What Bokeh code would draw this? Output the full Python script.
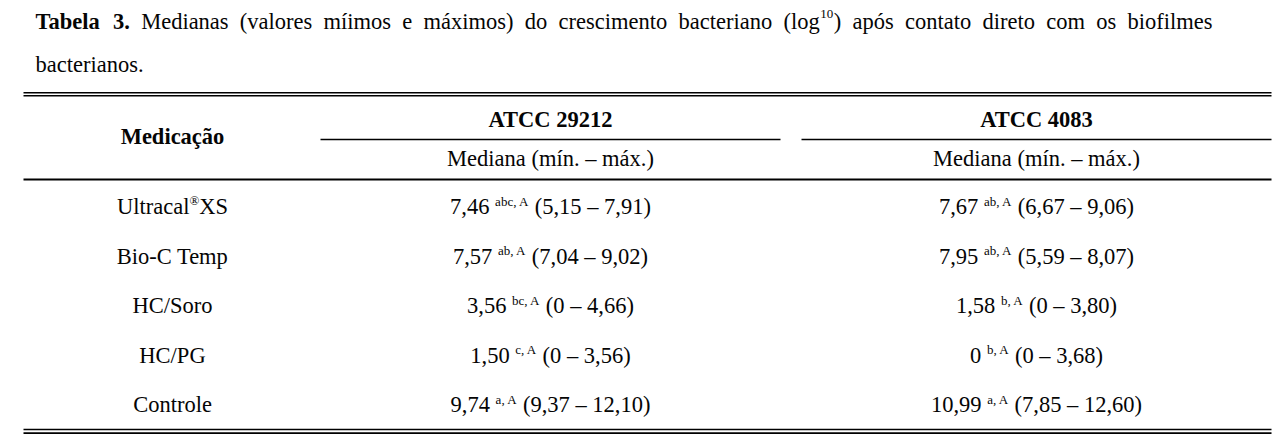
from bokeh.plotting import figure
from bokeh.models import Range1d, ColumnDataSource
from bokeh.core.properties import value
from bokeh.embed import file_html
from bokeh.resources import INLINE

# ---------------- data ----------------
title_line1 = "Tabela 3. Medianas (valores míimos e máximos) do crescimento bacteriano (log^10) após contato direto com os biofilmes"
title_bold_words = 2          # "Tabela 3." is bold
title_line2 = "bacterianos."

col_header_med = "Medicação"
strains = ["ATCC 29212", "ATCC 4083"]
sub_header = "Mediana (mín. – máx.)"

medications = ["Ultracal®XS", "Bio-C Temp", "HC/Soro", "HC/PG", "Controle"]

atcc29212_median = [7.46, 7.57, 3.56, 1.50, 9.74]
atcc29212_sig = ["abc, A", "ab, A", "bc, A", "c, A", "a, A"]
atcc29212_min = [5.15, 7.04, 0, 0, 9.37]
atcc29212_max = [7.91, 9.02, 4.66, 3.56, 12.10]

atcc4083_median = [7.67, 7.95, 1.58, 0, 10.99]
atcc4083_sig = ["ab, A", "ab, A", "b, A", "b, A", "a, A"]
atcc4083_min = [6.67, 5.59, 0, 0, 7.85]
atcc4083_max = [9.06, 8.07, 3.80, 3.68, 12.60]

# ---------------- text metrics (Times / Liberation Serif, per 1000 em) ----------------
W = {' ': 250, '!': 333, '(': 333, ')': 333, ',': 250, '-': 333, '.': 250, '/': 278, ':': 278,
     'A': 722, 'B': 667, 'C': 667, 'D': 722, 'E': 611, 'F': 556, 'G': 722, 'H': 722, 'I': 333,
     'J': 389, 'K': 722, 'L': 611, 'M': 889, 'N': 722, 'O': 722, 'P': 556, 'Q': 722, 'R': 667,
     'S': 556, 'T': 611, 'U': 722, 'V': 722, 'W': 944, 'X': 722, 'Y': 722, 'Z': 611,
     'a': 444, 'b': 500, 'c': 444, 'd': 500, 'e': 444, 'f': 333, 'g': 500, 'h': 500, 'i': 278,
     'j': 278, 'k': 500, 'l': 278, 'm': 778, 'n': 500, 'o': 500, 'p': 500, 'q': 500, 'r': 333,
     's': 389, 't': 278, 'u': 500, 'v': 500, 'w': 722, 'x': 500, 'y': 500, 'z': 444,
     'á': 444, 'í': 278, 'ó': 500, 'ç': 444, 'ã': 444, '®': 760, '–': 500}
for d in "0123456789":
    W[d] = 500
WB = {' ': 250, '.': 250, 'T': 667, 'a': 500, 'b': 556, 'e': 444, 'l': 278}
for d in "0123456789":
    WB[d] = 500


def tw(s, size, bold=False):
    tab = WB if bold else W
    return sum(tab.get(c, W.get(c, 500)) for c in s) * size / 1000.0


def fmt(v):
    if v == 0:
        return "0"
    return f"{v:.2f}".replace(".", ",")


# ---------------- layout ----------------
FS = 22.5      # main font size
FSS = 13       # superscript size
RAISE = 5.5    # superscript raise (table)
TRAISE = 8     # superscript raise (title)
TDY = -7       # correction of the rendered text baseline
FONT = value("Liberation Serif")
INK = "#050505"

PW, PH = 1280, 440
p = figure(width=PW, height=PH, output_backend="svg", toolbar_location=None,
           x_range=Range1d(0, PW), y_range=Range1d(PH, 0),
           min_border=0, outline_line_color=None)
p.axis.visible = False
p.grid.visible = False
p.background_fill_color = "white"
p.border_fill_color = "white"

reg = {"x": [], "y": [], "t": []}
sup = {"x": [], "y": [], "t": []}
bold_l = {"x": [], "y": [], "t": []}
bold_c = {"x": [], "y": [], "t": []}
reg_c = {"x": [], "y": [], "t": []}


def add(d, x, y, t):
    d["x"].append(x); d["y"].append(y + TDY); d["t"].append(t)


# ---- title (justified first line) ----
tx0, tx1, ty1, ty2 = 35, 1212, 28, 71
words = title_line1.split(" ")
parts = []
for k, wd in enumerate(words):
    if k < title_bold_words:
        parts.append([("b", wd)])
    elif "^" in wd:
        a, rest = wd.split("^")
        num = "".join(ch for ch in rest if ch.isdigit())
        tail = rest[len(num):]
        parts.append([("r", a), ("s", num), ("r", tail)])
    else:
        parts.append([("r", wd)])


def seg_w(st, t):
    if st == "b":
        return tw(t, FS, True)
    if st == "s":
        return tw(t, FSS) + 1
    return tw(t, FS)


wsum = sum(seg_w(st, t) for pr in parts for st, t in pr)
gap = (tx1 - tx0 - wsum) / (len(parts) - 1)
x = tx0
for pr in parts:
    for st, t in pr:
        if st == "b":
            add(bold_l, x, ty1, t)
        elif st == "s":
            add(sup, x + 0.5, ty1 - TRAISE, t)
        else:
            add(reg, x, ty1, t)
        x += seg_w(st, t)
    x += gap
add(reg, tx0, ty2, title_line2)

# ---- table geometry ----
left, right = 23, 1271
col_med = 172
col1_l, col1_r = 320, 780
col2_l, col2_r = 801, 1271
col_c = [(col1_l + col1_r) / 2, (col2_l + col2_r) / 2]

# header
add(bold_c, col_med, 143, col_header_med)
for c, s in zip(col_c, strains):
    add(bold_c, c, 126, s)
    add(reg_c, c, 165, sub_header)

# rows
row_y0, row_dy = 213, 49.6
sp = tw(" ", FS)
cols = [(atcc29212_median, atcc29212_sig, atcc29212_min, atcc29212_max),
        (atcc4083_median, atcc4083_sig, atcc4083_min, atcc4083_max)]
for i, med in enumerate(medications):
    yb = row_y0 + i * row_dy
    if "®" in med:
        a, b = med.split("®")
        total = tw(a, FS) + tw("®", FSS) + tw(b, FS)
        x = col_med - total / 2
        add(reg, x, yb, a)
        x += tw(a, FS)
        add(sup, x, yb - RAISE - 1, "®")
        x += tw("®", FSS)
        add(reg, x, yb, b)
    else:
        add(reg_c, col_med, yb, med)
    for c, (md, sg, mn, mx) in zip(col_c, cols):
        s1 = fmt(md[i])
        s2 = sg[i]
        s3 = "(" + fmt(mn[i]) + " – " + fmt(mx[i]) + ")"
        total = tw(s1, FS) + sp + tw(s2, FSS) + sp + tw(s3, FS)
        x = c - total / 2
        add(reg, x, yb, s1)
        x += tw(s1, FS) + sp
        add(sup, x, yb - RAISE, s2)
        x += tw(s2, FSS) + sp
        add(reg, x, yb, s3)

common = dict(text_font=FONT, text_color=INK, text_baseline="alphabetic")
p.text(x="x", y="y", text="t", source=ColumnDataSource(reg), text_align="left",
       text_font_size=f"{FS}px", **common)
p.text(x="x", y="y", text="t", source=ColumnDataSource(reg_c), text_align="center",
       text_font_size=f"{FS}px", **common)
p.text(x="x", y="y", text="t", source=ColumnDataSource(sup), text_align="left",
       text_font_size=f"{FSS}px", **common)
p.text(x="x", y="y", text="t", source=ColumnDataSource(bold_l), text_align="left",
       text_font_size=f"{FS}px", text_font_style="bold", **common)
p.text(x="x", y="y", text="t", source=ColumnDataSource(bold_c), text_align="center",
       text_font_size=f"{FS}px", text_font_style="bold", **common)

# rules
rules = dict(x0=[left, left, col1_l, col2_l, left, left, left],
             x1=[right, right, col1_r, col2_r, right, right, right],
             y=[92.3, 95.2, 139, 139, 179, 429, 432.6],
             w=[1.4, 1.4, 1.6, 1.6, 1.8, 1.6, 1.6])
p.segment(x0="x0", x1="x1", y0="y", y1="y", line_width="w", line_color="black",
          source=ColumnDataSource(rules))

open("out.html", "w").write(file_html(p, INLINE))
